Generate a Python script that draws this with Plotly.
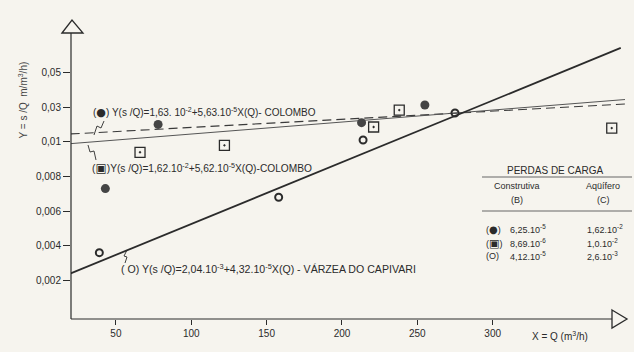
import numpy as np
import plotly.graph_objects as go

# ---- data ----
x_ticks = [50, 100, 150, 200, 250, 300]
y_ticks = [0.002, 0.004, 0.006, 0.008, 0.01, 0.03, 0.05]
y_tick_text = ["0,002", "0,004", "0,006", "0,008", "0,01", "0,03", "0,05"]

# the chart's broken y scale: equal spacing between these values
axis_real = [0, 0.002, 0.004, 0.006, 0.008, 0.01, 0.03, 0.05, 0.07]
axis_pos = [0, 1, 2, 3, 4, 5, 6, 7, 8]

colombo_a_x = [43, 78, 213, 255]
colombo_a_y = [0.0073, 0.0201, 0.0211, 0.0313]
colombo_b_x = [66, 122, 221, 238, 379]
colombo_b_y = [0.0094, 0.0098, 0.0186, 0.0284, 0.0180]
varzea_x = [39, 158, 214, 275]
varzea_y = [0.0036, 0.0068, 0.0111, 0.0267]

fit_a_x = [20, 388]
fit_a_y = [0.0146, 0.0319]
fit_b_x = [20, 388]
fit_b_y = [0.0099, 0.0345]
fit_v_x = [20, 385]
fit_v_y = [0.0024, 0.0643]


def ys(v):
    return np.interp(v, axis_real, axis_pos)


INK = "#2b2b2b"
BG = "#f6f4ee"
FONT = "Liberation Sans"

# plot-area pixel geometry
L, R, T, B = 71, 625, 33, 319
W, H = 634, 352


def px(x):
    return (x - L) / (R - L)


def py(y):
    return (B - y) / (B - T)


fig = go.Figure()
fig.add_trace(go.Scatter(x=fit_a_x, y=ys(fit_a_y), mode="lines",
                         line=dict(color="#3a3a3a", width=1.1, dash="9px,5px"), showlegend=False))
fig.add_trace(go.Scatter(x=fit_b_x, y=ys(fit_b_y), mode="lines",
                         line=dict(color="#555", width=1.0), showlegend=False))
fig.add_trace(go.Scatter(x=fit_v_x, y=ys(fit_v_y), mode="lines",
                         line=dict(color=INK, width=1.8), showlegend=False))
fig.add_trace(go.Scatter(x=colombo_a_x, y=ys(colombo_a_y), mode="markers",
                         marker=dict(symbol="circle", size=9, color="#444"), showlegend=False))
fig.add_trace(go.Scatter(x=colombo_b_x, y=ys(colombo_b_y), mode="markers",
                         marker=dict(symbol="square-open-dot", size=10, color=INK,
                                     line=dict(width=1.3, color=INK)), showlegend=False))
fig.add_trace(go.Scatter(x=varzea_x, y=ys(varzea_y), mode="markers",
                         marker=dict(symbol="circle-open", size=7, color=INK,
                                     line=dict(width=2, color=INK)), showlegend=False))

shapes = []
# axes
shapes.append(dict(type="line", xref="paper", yref="paper", x0=0, x1=px(612), y0=0, y1=0,
                   line=dict(color=INK, width=1.2)))
shapes.append(dict(type="line", xref="paper", yref="paper", x0=0, x1=0, y0=0, y1=1,
                   line=dict(color=INK, width=1.2)))
# arrow heads
shapes.append(dict(type="path", xref="paper", yref="paper",
                   path=f"M {px(62)} {py(33)} L {px(72)} {py(20)} L {px(83)} {py(33)} Z",
                   line=dict(color=INK, width=1.3), fillcolor=BG))
shapes.append(dict(type="path", xref="paper", yref="paper",
                   path=f"M {px(612)} {py(310)} L {px(627)} {py(319)} L {px(612)} {py(328)} Z",
                   line=dict(color=INK, width=1.3), fillcolor=BG))
# leaders
shapes.append(dict(type="path", xref="paper", yref="paper",
                   path=f"M {px(104)} {py(121)} L {px(101)} {py(128)} L {px(97)} {py(126)} L {px(94)} {py(135)}",
                   line=dict(color=INK, width=0.9)))
shapes.append(dict(type="path", xref="paper", yref="paper",
                   path=f"M {px(88)} {py(145)} L {px(90)} {py(152)} L {px(94)} {py(151)} L {px(96)} {py(160)}",
                   line=dict(color=INK, width=0.9)))
shapes.append(dict(type="path", xref="paper", yref="paper",
                   path=f"M {px(125)} {py(263)} L {px(127)} {py(257)} L {px(124)} {py(256)} L {px(127)} {py(250)}",
                   line=dict(color=INK, width=0.9)))
# table rules
shapes.append(dict(type="line", xref="paper", yref="paper", x0=px(482), x1=px(632),
                   y0=py(177), y1=py(177), line=dict(color="#666", width=1)))
shapes.append(dict(type="line", xref="paper", yref="paper", x0=px(482), x1=px(632),
                   y0=py(211), y1=py(211), line=dict(color="#666", width=1)))

ann = []


def text(x, y, s, size=10, xanchor="left", color=INK):
    ann.append(dict(xref="paper", yref="paper", x=px(x), y=py(y), text=s, showarrow=False,
                    xanchor=xanchor, yanchor="middle", font=dict(size=size, color=color, family=FONT)))


DOT = "<span style='font-family:DejaVu Sans;font-size:11px'>●</span>"
SQ = "<span style='font-family:DejaVu Sans;font-size:12px'>▣</span>"
text(91, 113, f"({DOT}) Y(s /Q)=1,63. 10<sup>-2</sup>+5,63.10<sup>-5</sup>X(Q)- COLOMBO", 10)
text(90, 168, f"({SQ})Y(s /Q)=1,62.10<sup>-2</sup>+5,62.10<sup>-5</sup>X(Q)-COLOMBO", 10.2)
text(119, 268, "( O) Y(s /Q)=2,04.10<sup>-3</sup>+4,32.10<sup>-5</sup>X(Q) - VÁRZEA DO CAPIVARI", 10.6)

text(555, 170, "PERDAS DE CARGA", 10, "center")
text(517, 186, "Construtiva", 9, "center")
text(603, 186, "Aqüífero", 9, "center")
text(517, 200, "(B)", 9, "center")
text(603, 200, "(C)", 9, "center")
DOT_S = "<span style='font-family:DejaVu Sans;font-size:10px'>●</span>"
SQ_S = "<span style='font-family:DejaVu Sans;font-size:11px'>▣</span>"
rows_sym = [f"({DOT_S})", f"({SQ_S})", "(O)"]
rows_b = ["6,25.10<sup>-5</sup>", "8,69.10<sup>-6</sup>", "4,12.10<sup>-5</sup>"]
rows_c = ["1,62.10<sup>-2</sup>", "1,0.10<sup>-2</sup>", "2,6.10<sup>-3</sup>"]
for i, yy in enumerate([229, 243, 256]):
    text(484, yy, rows_sym[i], 9)
    text(508, yy, rows_b[i], 9)
    text(585, yy, rows_c[i], 9)

# axis titles
ann.append(dict(xref="paper", yref="paper", x=px(15), y=py(60), text="Y = s /Q  m/m<sup>3</sup>/h)",
                showarrow=False, textangle=-90, font=dict(size=10, color="#444", family=FONT)))
ann.append(dict(xref="paper", yref="paper", x=px(590), y=py(344), text="X = Q (m<sup>3</sup>/h)",
                showarrow=False, font=dict(size=10, color=INK, family=FONT)))

fig.update_layout(
    width=W, height=H, margin=dict(l=L, r=W - R, t=T, b=H - B),
    paper_bgcolor=BG, plot_bgcolor=BG, shapes=shapes, annotations=ann,
    font=dict(family=FONT, color=INK, size=10),
)
fig.update_xaxes(range=[20.2, 387.8], tickvals=x_ticks, ticktext=[str(v) for v in x_ticks],
                 ticks="outside", ticklen=5, tickcolor=INK, showgrid=False, zeroline=False,
                 showline=False, tickfont=dict(size=10, color=INK, family=FONT))
fig.update_yaxes(range=[-0.118, 8.147], tickvals=ys(y_ticks), ticktext=y_tick_text,
                 ticks="outside", ticklen=7, tickcolor=INK, showgrid=False, zeroline=False,
                 showline=False, tickfont=dict(size=10, color=INK, family=FONT))

fig.write_html("out.html", config={"displayModeBar": False},
               post_script="document.body.style.margin='0';document.body.style.background='%s';" % BG)
